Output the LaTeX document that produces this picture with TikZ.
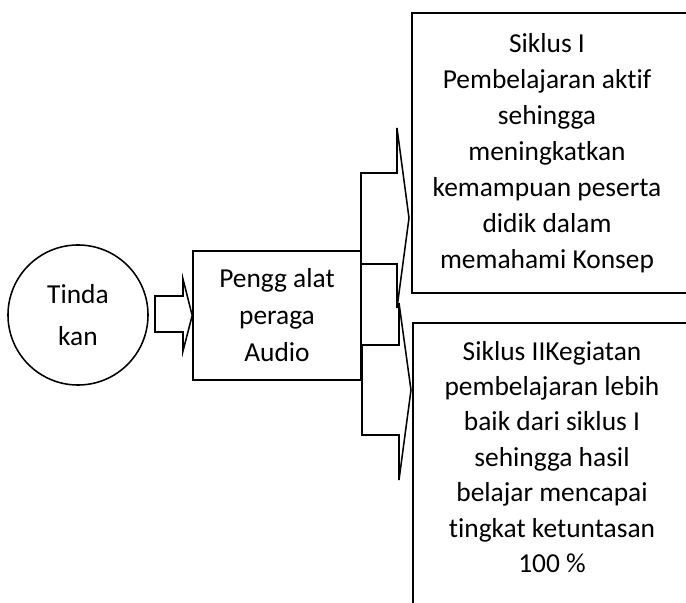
\documentclass[tikz,border=0pt]{standalone}
\usepackage{fontspec}
\setmainfont{Carlito}[RawFeature={-liga}]
\usetikzlibrary{calc}
\usetikzlibrary{shapes,arrows}

\begin{document}
\begin{tikzpicture}[x=0.025cm, y=-0.025cm, line width=1.1pt,
    teks/.style={align=center, font=\fontsize{19.5pt}{25.6pt}\selectfont}]
    \clip (0,0) rectangle (686,603);

    \node [draw, circle, minimum size=3.5cm, inner sep=0pt, teks,
        font=\fontsize{19.5pt}{29.9pt}\selectfont] (tindakan) at (78, 315) {Tinda\\kan};
    \node [draw, minimum width=4.2cm, minimum height=3.225cm, teks,
        font=\fontsize{19.5pt}{26.3pt}\selectfont] (alat) at (277, 315.5) {Pengg alat\\peraga\\Audio};
    \node [draw, minimum width=6.95cm, minimum height=7cm] (siklusA) at (551, 153) {};
    \node [draw, minimum width=6.95cm, minimum height=7.925cm] (siklusB) at (552, 481.5) {};

    \node [teks] (siklusA-teks) at (547, 153) {Siklus I\\Pembelajaran aktif\\sehingga\\meningkatkan\\kemampuan peserta\\didik dalam\\memahami Konsep};
    \node [teks, font=\fontsize{19.5pt}{25.2pt}\selectfont] (siklusB-teks) at (552, 457) {Siklus IIKegiatan\\pembelajaran lebih\\baik dari siklus I\\sehingga hasil\\belajar mencapai\\tingkat ketuntasan\\100 \%};

    \coordinate (A0) at (155, 296);
    \coordinate (A1) at (183, 296);
    \coordinate (A2) at (183, 279);
    \coordinate (A3) at (183, 351);
    \coordinate (A4) at (183, 332);
    \coordinate (A5) at (155, 332);

    \coordinate (B0) at (361, 173);
    \coordinate (B1) at (397, 173);
    \coordinate (B2) at (397, 128);
    \coordinate (B3) at (409, 218);
    \coordinate (B4) at (397, 308);
    \coordinate (B5) at (397, 264);
    \coordinate (B6) at (361, 264);

    \coordinate (C0) at (362, 345);
    \coordinate (C1) at (399, 345);
    \coordinate (C2) at (399, 303);
    \coordinate (C3) at (411, 390);
    \coordinate (C4) at (399, 480);
    \coordinate (C5) at (399, 435);
    \coordinate (C6) at (362, 435);

    \draw (A0) -- (A1) -- (A2) -- (alat.west) -- (A3) -- (A4) -- (A5) -- cycle;
    \draw (B0) -- (B1) -- (B2) -- (B3) -- (B4) -- (B5) -- (B6) -- cycle;
    \draw (C0) -- (C1) -- (C2) -- (C3) -- (C4) -- (C5) -- (C6) -- cycle;
\end{tikzpicture}
\end{document}
